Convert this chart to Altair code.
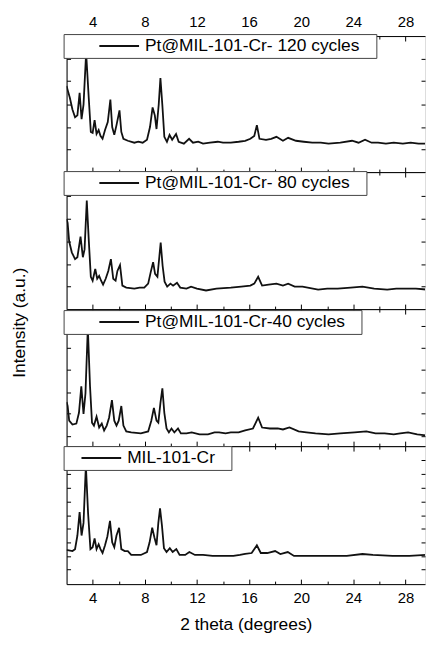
import altair as alt
import pandas as pd

FONT = "Liberation Sans"
INK = "#111111"

# ---- data (2 theta in degrees, intensity in arbitrary units) ----
X_120 = [2.0, 2.08, 2.25, 2.45, 2.65, 2.83, 3.0, 3.15, 3.3, 3.5, 3.7, 3.86, 4.0, 4.15, 4.3, 4.46,
         4.6, 4.76, 4.95, 5.16, 5.36, 5.5, 5.66, 5.83, 6.06, 6.2, 6.36, 6.7, 7.2, 7.5, 7.84, 8.17,
         8.4, 8.6, 8.77, 8.9, 9.07, 9.2, 9.35, 9.5, 9.7, 9.9, 10.1, 10.4, 10.6, 11.0, 11.4, 11.7,
         12.1, 12.47, 13.0, 13.6, 14.0, 14.6, 15.2, 15.7, 16.1, 16.4, 16.6, 16.8, 17.3, 17.7, 18.1,
         18.6, 19.0, 19.6, 20.2, 20.85, 21.5, 22.1, 23.0, 23.9, 24.4, 24.9, 25.4, 25.9, 26.5, 27.1,
         27.8, 28.4, 29.0, 29.6]
Y_120 = [88, 84, 76, 64, 56, 58, 81, 54, 69, 122, 76, 41, 40, 53, 39, 43,
         37, 34, 43, 51, 74, 46, 38, 48, 63, 41, 34, 32, 30, 31, 30, 33,
         46, 66, 58, 44, 69, 96, 68, 36, 31, 38, 33, 39, 31, 29, 34, 30,
         31, 29, 30, 31, 30, 30, 31, 32, 34, 37, 48, 34, 33, 34, 36,
         32, 35, 32, 31, 30, 30, 29, 30, 32, 30, 33, 30, 30, 29, 30,
         29, 30, 29, 29]

X_80 = [2.0, 2.08, 2.2, 2.4, 2.65, 2.83, 3.07, 3.25, 3.38, 3.55, 3.7, 3.86, 4.0, 4.2, 4.35, 4.5,
        4.65, 4.8, 5.0, 5.2, 5.4, 5.58, 5.76, 5.9, 6.1, 6.28, 6.58, 7.2, 7.6, 7.96, 8.26, 8.46,
        8.64, 8.79, 8.97, 9.12, 9.22, 9.37, 9.52, 9.72, 9.97, 10.17, 10.47, 10.72, 11.2, 11.55,
        12.0, 12.7, 13.5, 14.6, 15.4, 16.1, 16.4, 16.7, 17.0, 17.5, 18.1, 18.6, 19.0, 19.5, 20.1,
        21.3, 22.0, 22.8, 23.8, 24.7, 25.6, 26.6, 27.3, 28.1, 28.8, 29.6]
Y_80 = [92, 88, 69, 58, 51, 53, 74, 53, 61, 111, 71, 33, 29, 41, 31, 34,
        29, 25, 31, 39, 51, 31, 29, 39, 45, 24, 22, 21, 22, 22, 26, 38,
        48, 36, 33, 54, 68, 44, 28, 23, 26, 24, 27, 22, 21, 23,
        21, 19, 21, 22, 23, 24, 26, 33, 24, 25, 26, 24, 26, 23, 23,
        20, 21, 21, 22, 23, 21, 20, 21, 21, 21, 20]

X_40 = [2.0, 2.08, 2.2, 2.45, 2.75, 2.95, 3.13, 3.3, 3.45, 3.63, 3.8, 3.95, 4.1, 4.3, 4.5, 4.7,
        4.88, 5.08, 5.26, 5.48, 5.66, 5.83, 6.0, 6.2, 6.36, 6.58, 6.96, 7.7, 8.26, 8.5, 8.7, 8.9,
        9.04, 9.2, 9.35, 9.5, 9.67, 9.85, 10.05, 10.27, 10.55, 10.77, 11.2, 11.6, 12.2, 12.85,
        13.35, 13.7, 14.2, 14.6, 15.2, 15.7, 16.3, 16.7, 17.0, 17.6, 18.2, 18.6, 19.1, 19.8, 20.4,
        21.1, 22.1, 23.0, 24.1, 25.0, 25.7, 26.4, 27.1, 27.6, 28.2, 28.9, 29.6]
Y_40 = [45, 41, 26, 22, 23, 34, 61, 33, 54, 121, 61, 24, 21, 30, 19, 23,
        16, 21, 29, 47, 26, 21, 26, 41, 21, 15, 14, 13, 15, 26, 39, 26,
        24, 44, 59, 34, 18, 14, 18, 14, 18, 13, 13, 14, 12, 12,
        14, 14, 13, 14, 14, 16, 18, 29, 19, 18, 18, 17, 19, 15, 14,
        13, 12, 13, 14, 15, 13, 13, 12, 13, 14, 12, 11]

X_0 = [2.0, 2.08, 2.45, 2.65, 2.83, 3.0, 3.15, 3.3, 3.48, 3.65, 3.83, 4.0, 4.15, 4.3, 4.46, 4.6,
       4.76, 4.95, 5.13, 5.33, 5.5, 5.66, 5.83, 6.03, 6.2, 6.46, 6.7, 6.96, 7.7, 8.17, 8.37, 8.57,
       8.74, 8.9, 9.04, 9.17, 9.32, 9.47, 9.67, 9.92, 10.14, 10.42, 10.67, 11.1, 11.42, 11.85,
       12.47, 13.2, 14.0, 14.8, 15.3, 15.7, 16.2, 16.6, 16.9, 17.4, 18.0, 18.4, 18.97, 19.45,
       20.5, 22.0, 23.5, 24.7, 25.5, 27.0, 28.3, 29.6]
Y_0 = [35, 35, 34, 36, 50, 74, 50, 63, 122, 73, 36, 38, 47, 36, 41, 36,
       32, 40, 49, 65, 43, 38, 50, 58, 36, 34, 34, 30, 30, 33, 43, 58,
       48, 40, 63, 78, 60, 37, 33, 37, 33, 36, 30, 30, 33, 30,
       30, 29, 29, 29, 30, 31, 32, 40, 32, 32, 34, 31, 33, 29,
       29, 29, 29, 31, 30, 29, 29, 30]

LABELS = ["Pt@MIL-101-Cr- 120 cycles", "Pt@MIL-101-Cr- 80 cycles",
          "Pt@MIL-101-Cr-40 cycles", "MIL-101-Cr"]
X_TICKS = [4, 6, 8, 10, 12, 14, 16, 18, 20, 22, 24, 26, 28]
Y_TICKS = [[23, 46, 69, 93, 116],
           [23, 46, 69, 92, 116],
           [10, 33, 55, 78, 100, 123],
           [15, 29, 43, 57, 71, 85, 99, 113, 128]]

XS = [X_120, X_80, X_40, X_0]
YS = [Y_120, Y_80, Y_40, Y_0]
HEIGHTS = [137, 138, 138, 139]
YMAX = [139, 140, 140, 142]
LEG_Y = [-2, -1, 1, 0]
SYM_OFF = [32, 32, 32, 14]
PAD_RIGHT = [1, 1, 1, 1]

W = 361
XDOM = [2, 29.5]

X_TICK_SIZE = {"expr": "datum.value % 4 === 0 ? -5 : -3"}
Y_TICK_SIZE = {"expr": "-4"}
LABEL_EXPR_X = "datum.value % 4 === 0 ? datum.label : ''"

common_axis = dict(grid=False, domainColor="black", domainWidth=1, tickColor="black",
                   tickWidth=1, labelFont=FONT, labelFontSize=15, labelColor="black",
                   titleFont=FONT, titleFontSize=17.5, titleColor="black",
                   titleFontWeight="normal")


def panel(i):
    df = pd.DataFrame({"theta": XS[i], "intensity": YS[i], "sample": LABELS[i]})
    h = HEIGHTS[i]
    xscale = alt.Scale(domain=XDOM, nice=False, zero=False)
    yscale = alt.Scale(domain=[0, YMAX[i]], nice=False, zero=False)

    if i == 3:
        bottom = alt.Axis(orient="bottom", values=X_TICKS, tickSize=X_TICK_SIZE,
                          labelExpr=LABEL_EXPR_X, labelPadding=12, labelOverlap=False,
                          title="2 theta (degrees)", titlePadding=8, **common_axis)
    else:
        bottom = alt.Axis(orient="bottom", values=X_TICKS, tickSize=X_TICK_SIZE,
                          labels=False, title=None, **common_axis)
    if i == 0:
        top = alt.Axis(orient="top", values=X_TICKS, tickSize=X_TICK_SIZE,
                       labelExpr=LABEL_EXPR_X, labelPadding=12, labelOverlap=False,
                       title=None, **common_axis)
    else:
        top = alt.Axis(orient="top", values=X_TICKS, tickSize=X_TICK_SIZE,
                       labels=False, title=None, **common_axis)
    left = alt.Axis(orient="left", values=Y_TICKS[i], tickSize=Y_TICK_SIZE,
                    labels=False, title=None, **common_axis)
    right = alt.Axis(orient="right", values=Y_TICKS[i], tickSize=Y_TICK_SIZE,
                     labels=False, title=None, domain=False, grid=False,
                     tickColor="black", tickWidth=1)

    legend = alt.Legend(
        title=None, orient="none", legendX=-3, legendY=LEG_Y[i],
        symbolType="stroke", symbolSize=1600, symbolStrokeWidth=2, clipHeight=18,
        symbolOffset=SYM_OFF[i], labelOffset=5, labelLimit=500,
        labelFont=FONT, labelFontSize=17.5, labelColor="black",
        labelExpr="datum.label + '" + "\u2800" * PAD_RIGHT[i] + "'",
        padding=3, strokeColor="#444444", fillColor="white",
    )

    base = alt.Chart(df)
    line = base.mark_line(strokeWidth=1.8, clip=True).encode(
        x=alt.X("theta:Q", scale=xscale, axis=bottom),
        y=alt.Y("intensity:Q", scale=yscale, axis=left),
        color=alt.Color("sample:N", scale=alt.Scale(range=[INK]), legend=legend),
    )
    ghost = base.mark_line(strokeOpacity=0, clip=True).encode(
        x=alt.X("theta:Q", scale=xscale, axis=top),
        y=alt.Y("intensity:Q", scale=yscale, axis=right),
    )
    return alt.layer(line, ghost).properties(width=W, height=h)


chart = alt.vconcat(
    *[panel(i) for i in range(4)],
    spacing=0,
    bounds="flush",
    title=alt.TitleParams(text="Intensity (a.u.)", orient="left", anchor="middle",
                          font=FONT, fontSize=17.5, fontWeight="normal", color="black",
                          offset=34),
    padding={"left": 3, "top": 1, "right": 0, "bottom": 0},
).resolve_scale(color="independent").resolve_legend(color="independent").configure_view(
    stroke="transparent"
).configure(background="white")

chart.save("out.html", embed_options={"renderer": "svg", "actions": False})
